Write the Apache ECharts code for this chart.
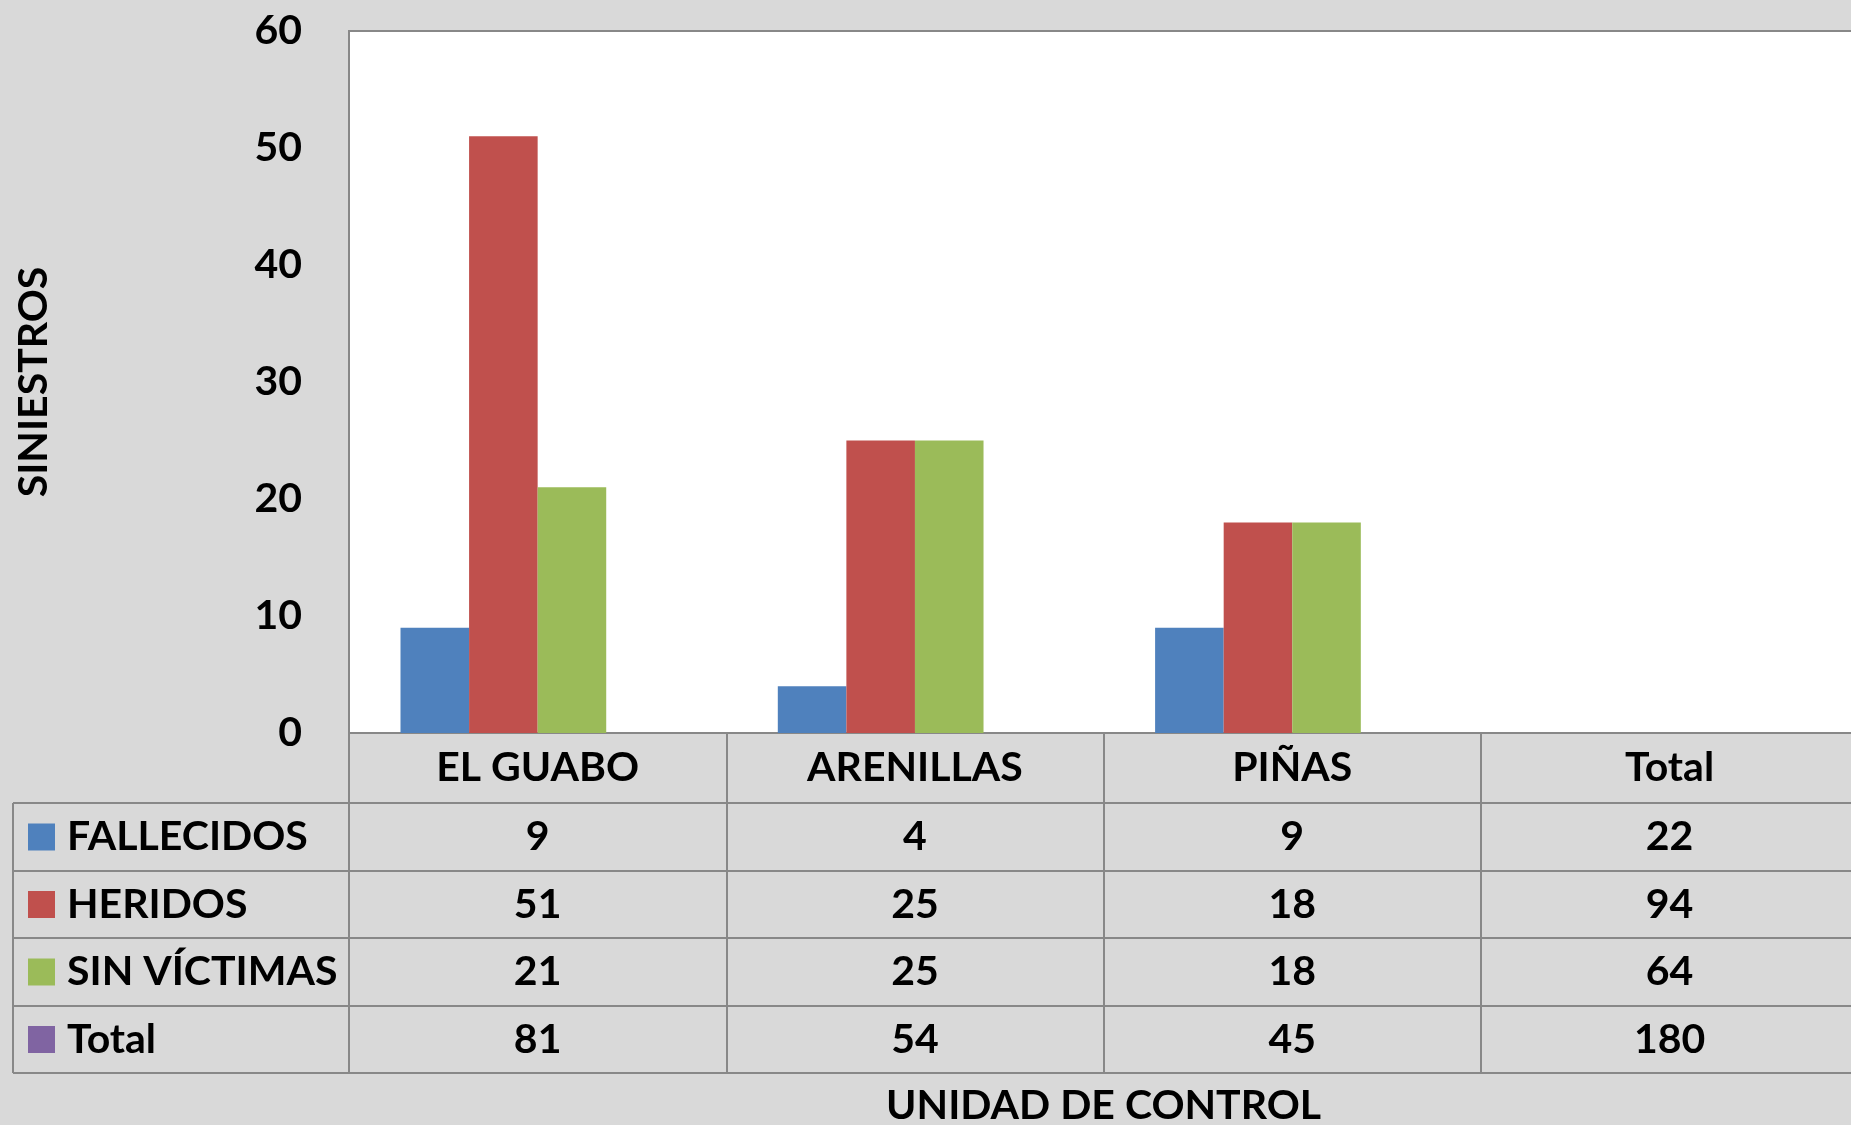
<!DOCTYPE html>
<html>
<head>
<meta charset="utf-8">
<script src="https://cdn.jsdelivr.net/npm/echarts@6/dist/echarts.min.js"></script>
<style>
  html, body { margin: 0; padding: 0; background: #d9d9d9; }
  #main { width: 1851px; height: 1125px; }
</style>
</head>
<body>
<div id="main"></div>
<script>
// datos de la tabla
const categories = ['EL GUABO', 'ARENILLAS', 'PIÑAS', 'Total']
const seriesNames = ['FALLECIDOS', 'HERIDOS', 'SIN VÍCTIMAS', 'Total']
const fallecidos = [9, 4, 9, 22]
const heridos = [51, 25, 18, 94]
const sinVictimas = [21, 25, 18, 64]
const totales = [81, 54, 45, 180]
const yTicks = [0, 10, 20, 30, 40, 50, 60]

const colors = ['#4f81bd', '#c0504d', '#9bbb59', '#8064a2']
const rowValues = [fallecidos, heridos, sinVictimas, totales]
const lineColor = '#888888'
const font = { fontFamily: 'Lato', fontWeight: 'bold', color: '#000', fontSize: 41 }

// layout de la tabla (px)
const gridLeft = 349
const gridTop = 31
const gridBottomY = 733
const colWidth = 377.3
const tableLeft = 13
const rowLines = [803, 871, 938, 1006, 1073] // lineas horizontales de la tabla

const chart = echarts.init(document.getElementById('main'))

// solo se grafican las unidades, no la columna Total ni la serie Total
const plotted = (arr, si) => arr.map((v, i) => (categories[i] === 'Total' || seriesNames[si] === 'Total') ? null : v)

const baseX = {
  type: 'category',
  data: categories,
  position: 'bottom',
  boundaryGap: true,
  axisLine: { show: true, lineStyle: { color: lineColor, width: 2 } },
  axisTick: { show: false },
  splitLine: { show: false }
}

const xAxes = [Object.assign({}, baseX, {
  offset: 0,
  axisTick: { show: true, interval: 0, length: rowLines[4] - gridBottomY, lineStyle: { color: lineColor, width: 2 } },
  axisLabel: Object.assign({ interval: 0, margin: 35, verticalAlign: 'middle' }, font)
})]
rowValues.forEach((vals, k) => {
  const top = rowLines[k]
  const bottom = rowLines[k + 1]
  xAxes.push(Object.assign({}, baseX, {
    offset: top - gridBottomY,
    axisLabel: Object.assign({
      interval: 0,
      margin: (bottom - top) / 2,
      verticalAlign: 'middle',
      formatter: (v, i) => String(vals[i])
    }, font)
  }))
})
// linea inferior y titulo del eje
xAxes.push(Object.assign({}, baseX, {
  offset: rowLines[4] - gridBottomY,
  axisLabel: { show: false },
  name: 'UNIDAD DE CONTROL',
  nameLocation: 'middle',
  nameGap: 12,
  nameTextStyle: Object.assign({ verticalAlign: 'top' }, font)
}))

// columna izquierda: claves de leyenda, nombres y bordes
const graphics = []
seriesNames.forEach((name, k) => {
  const cy = (rowLines[k] + rowLines[k + 1]) / 2
  graphics.push({
    type: 'rect',
    shape: { x: 28, y: cy - 13.5, width: 27, height: 27 },
    style: { fill: colors[k] }
  })
  graphics.push({
    type: 'text',
    x: 67,
    y: cy,
    style: { text: name, verticalAlign: 'middle', align: 'left', fill: '#000', font: 'bold 41px Lato' }
  })
})
rowLines.forEach(y => {
  graphics.push({ type: 'line', shape: { x1: tableLeft, y1: y, x2: gridLeft, y2: y }, style: { stroke: lineColor, lineWidth: 2 } })
})
graphics.push({ type: 'line', shape: { x1: tableLeft, y1: rowLines[0], x2: tableLeft, y2: rowLines[4] }, style: { stroke: lineColor, lineWidth: 2 } })

const option = {
  backgroundColor: '#d9d9d9',
  animation: false,
  grid: {
    show: true,
    left: gridLeft,
    top: gridTop,
    width: colWidth * categories.length,
    height: gridBottomY - gridTop,
    outerBoundsMode: 'none',
    containLabel: false,
    backgroundColor: '#ffffff',
    borderColor: lineColor,
    borderWidth: 2
  },
  xAxis: xAxes,
  yAxis: {
    type: 'value',
    min: yTicks[0],
    max: yTicks[yTicks.length - 1],
    interval: 10,
    axisLine: { show: false },
    axisTick: { show: false },
    splitLine: { show: false },
    axisLabel: Object.assign({ margin: 47 }, font),
    name: 'SINIESTROS',
    nameLocation: 'middle',
    nameRotate: 90,
    nameGap: 295,
    nameTextStyle: font
  },
  series: rowValues.map((vals, si) => ({
    name: seriesNames[si],
    type: 'bar',
    xAxisIndex: 0,
    data: plotted(vals, si),
    barGap: '0%',
    barCategoryGap: '27.3%',
    itemStyle: { color: colors[si] }
  })),
  graphic: graphics
}

chart.setOption(option)
</script>
</body>
</html>
